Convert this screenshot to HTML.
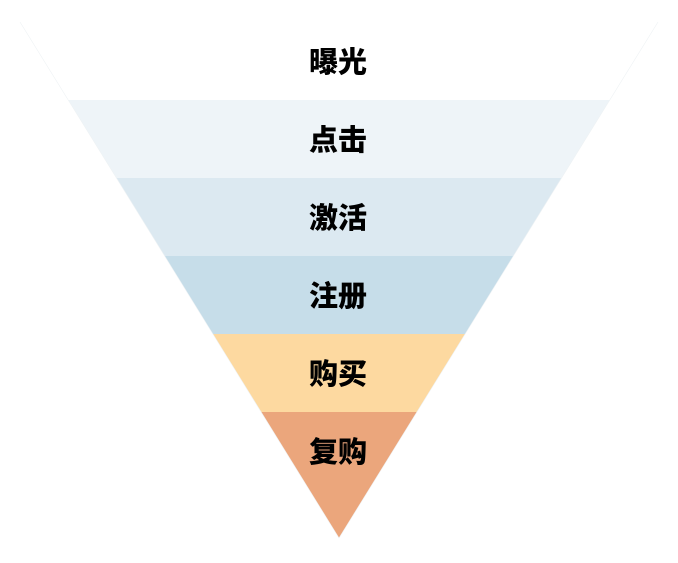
<!DOCTYPE html>
<html><head><meta charset="utf-8"><style>
html,body{margin:0;padding:0;background:#fff;}
svg{display:block;}
text{font-family:"Liberation Sans","Noto Sans CJK SC",sans-serif;font-weight:900;font-size:29px;fill:#000;}
</style></head><body>
<svg width="678" height="563" viewBox="0 0 678 563">
<defs><clipPath id="c"><polygon points="20,22 658,22 339,538"/></clipPath></defs>
<g clip-path="url(#c)">
<rect x="0" y="22" width="678" height="78" fill="#ffffff"/>
<rect x="0" y="100" width="678" height="78" fill="#eef4f8"/>
<rect x="0" y="178" width="678" height="78" fill="#dce9f1"/>
<rect x="0" y="256" width="678" height="78" fill="#c6dde9"/>
<rect x="0" y="334" width="678" height="78" fill="#fdd9a0"/>
<rect x="0" y="412" width="678" height="130" fill="#eba67c"/>
</g>
<polyline points="20,22 339,538 658,22" fill="none" stroke="#eef2f4" stroke-width="0.6"/>
<g text-anchor="middle">
<text x="338" y="72">曝光</text>
<text x="338" y="150">点击</text>
<text x="338" y="228">激活</text>
<text x="338" y="306">注册</text>
<text x="338" y="384">购买</text>
<text x="338" y="462">复购</text>
</g>
</svg>
</body></html>
